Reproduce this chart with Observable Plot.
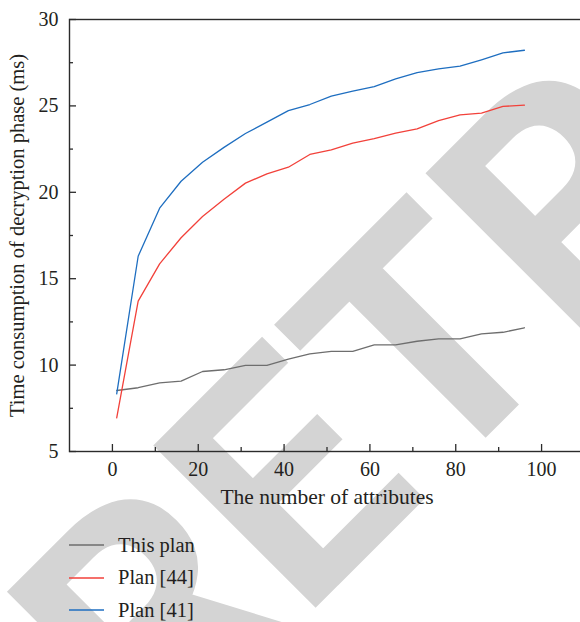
<!DOCTYPE html>
<html>
<head>
<meta charset="utf-8">
<script src="https://cdn.jsdelivr.net/npm/d3@7"></script>
<script src="https://cdn.jsdelivr.net/npm/@observablehq/plot@0.6"></script>
<style>
  html, body { margin: 0; padding: 0; background: #fff; overflow: hidden; }
  #wrap { position: relative; width: 580px; height: 622px; overflow: hidden; }
  #wm { position: absolute; left: 0; top: 0; z-index: 0; }
  #chart { position: absolute; left: 0; top: 0; z-index: 1; }
  #legend { position: absolute; left: 0; top: 529px; z-index: 1; font-family: "Liberation Serif", serif; font-size: 20.5px; color: #231f20; }
  .row { display: flex; align-items: center; height: 32.5px; }
  .row svg { margin-left: 69px; margin-right: 14px; }
</style>
</head>
<body>
<div id="wrap">
  <svg id="wm" width="580" height="622"></svg>
  <div id="chart"></div>
  <div id="legend"></div>
</div>
<script>
// ---- data ----
const attributes = [1, 6, 11, 16, 21, 26, 31, 36, 41, 46, 51, 56, 61, 66, 71, 76, 81, 86, 91, 96];
const thisPlan = [8.53, 8.69, 8.97, 9.07, 9.63, 9.73, 9.98, 9.98, 10.34, 10.65, 10.80, 10.80, 11.17, 11.17, 11.38, 11.52, 11.52, 11.81, 11.90, 12.16];
const plan44 = [6.95, 13.70, 15.86, 17.37, 18.60, 19.60, 20.53, 21.07, 21.45, 22.19, 22.46, 22.84, 23.10, 23.42, 23.67, 24.15, 24.48, 24.58, 24.97, 25.04];
const plan41 = [8.34, 16.30, 19.08, 20.64, 21.74, 22.60, 23.40, 24.06, 24.73, 25.08, 25.56, 25.85, 26.12, 26.57, 26.93, 27.14, 27.30, 27.67, 28.07, 28.22];
const seriesNames = ["This plan", "Plan [44]", "Plan [41]"];
const seriesColors = ["#6e6e6e", "#f2413a", "#1e6ec0"];
const xMajorTicks = [0, 20, 40, 60, 80, 100];
const xMinorTicks = [10, 30, 50, 70, 90];
const yMajorTicks = [5, 10, 15, 20, 25, 30];
const yMinorTicks = [7.5, 12.5, 17.5, 22.5, 27.5];
const xLabel = "The number of attributes";
const yLabel = "Time consumption of decryption phase (ms)";
const watermark = "RETRACTED";

// ---- table ----
const seriesValues = [thisPlan, plan44, plan41];
const rows = [];
seriesNames.forEach((name, s) => attributes.forEach((a, i) => rows.push({series: name, x: a, y: seriesValues[s][i]})));

const axisColor = "#2b2b2b";
const chart = Plot.plot({
  width: 584,
  height: 520,
  marginLeft: 69,
  marginRight: 0,
  marginTop: 19,
  marginBottom: 69,
  style: {background: "transparent", maxWidth: "none", overflow: "visible", fontFamily: "'Liberation Serif', serif", fontSize: "20px", color: "#231f20"},
  x: {domain: [-10, 110]},
  y: {domain: [5, 30]},
  color: {domain: seriesNames, range: seriesColors},
  marks: [
    Plot.line(rows, {x: "x", y: "y", z: "series", stroke: "series", strokeWidth: 1.3}),
    Plot.frame({stroke: axisColor, strokeWidth: 1.4}),
    Plot.axisX({ticks: xMajorTicks, tickSize: -7, tickPadding: 17, label: null, stroke: axisColor, strokeWidth: 1.3, fill: "#231f20"}),
    Plot.axisX({ticks: xMinorTicks, tickSize: -4, tickFormat: () => "", label: null, stroke: axisColor, strokeWidth: 1.3}),
    Plot.axisY({ticks: yMajorTicks, tickSize: -7, tickPadding: 18, label: null, stroke: axisColor, strokeWidth: 1.3, fill: "#231f20"}),
    Plot.axisY({ticks: yMinorTicks, tickSize: -4, tickFormat: () => "", label: null, stroke: axisColor, strokeWidth: 1.3}),
    Plot.text([xLabel], {frameAnchor: "bottom", dy: 52, fontSize: 21.5, textAnchor: "middle", fill: "#231f20"}),
    Plot.text([yLabel], {frameAnchor: "left", dx: -52, rotate: -90, fontSize: 20.5, textAnchor: "middle", lineAnchor: "middle", fill: "#231f20"})
  ]
});
document.getElementById("chart").appendChild(chart);

// ---- legend ----
const legend = document.getElementById("legend");
seriesNames.forEach((name, i) => {
  const row = document.createElement("div");
  row.className = "row";
  row.innerHTML = `<svg width="35" height="4"><line x1="0" y1="2" x2="35" y2="2" stroke="${seriesColors[i]}" stroke-width="1.3"/></svg><span>${name}</span>`;
  legend.appendChild(row);
});

// ---- watermark ----
const u0 = -434, v0 = 653;
const wx = (u0 + v0) / Math.SQRT2, wy = (v0 - u0) / Math.SQRT2;
const wm = d3.select("#wm");
wm.append("text")
  .attr("transform", `translate(${wx},${wy}) rotate(-45)`)
  .attr("font-family", "Roboto, 'Liberation Sans', sans-serif")
  .attr("font-weight", 700)
  .attr("font-size", 323)
  .attr("fill", "#d4d4d4")
  .text(watermark);
</script>
</body>
</html>
